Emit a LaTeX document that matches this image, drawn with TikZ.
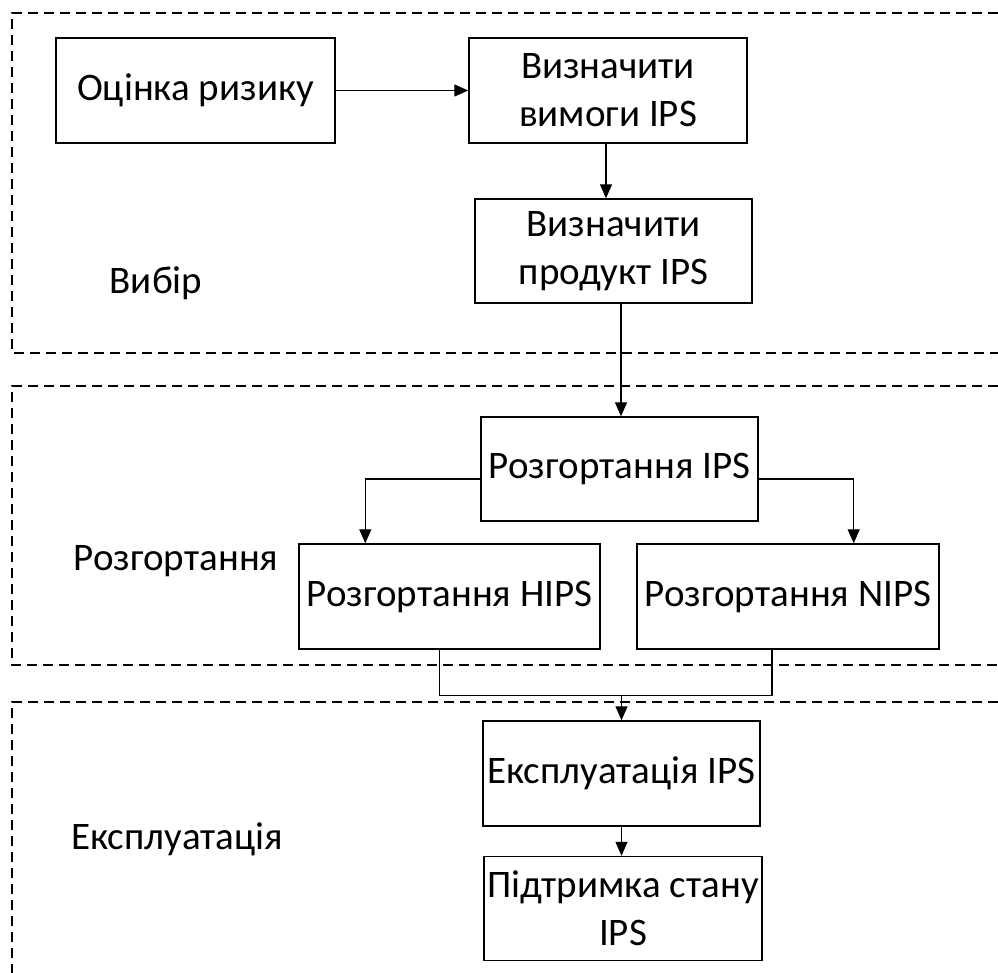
\documentclass[tikz,border=0pt]{standalone}
\usepackage{fontspec}
\setmainfont{Carlito}
\usetikzlibrary{positioning}
\usetikzlibrary{arrows.meta}
\tikzset{box/.style = {draw, line width=1.4pt, inner sep=0pt, align=center,
                       minimum width=277pt, minimum height=105pt,
                       font=\fontsize{39}{48}\selectfont}}
\tikzset{lbl/.style = {inner sep=0pt, font=\fontsize{39}{48}\selectfont}}
\tikzset{flow/.style = {line width=1.2pt, -{Triangle[length=14pt,width=12pt]}}}
\tikzset{link/.style = {line width=1.2pt}}
\tikzset{frame/.style = {line width=1.2pt, dash pattern=on 10pt off 6pt}}

\begin{document}
\begin{tikzpicture}[x=1pt,y=-1pt]
        \useasboundingbox (0,0) rectangle (998,973);
        % stage frames
        \draw[frame] (998,13) -- (12,13) -- (12,353) -- (998,353);
        \draw[frame] (998,386) -- (12,386) -- (12,665) -- (998,665);
        \draw[frame] (998,702) -- (12,702) -- (12,973);
        \node[lbl] (selLbl) at (156,283) {Вибір};
        \node[lbl] (depLbl) at (176,561) {Розгортання};
        \node[lbl] (opLbl) at (177,839) {Експлуатація};
        \node[box, minimum width=279pt] (risk) at (195.5,90.5) {Оцінка ризику};
        \node[box, minimum width=278pt] (req) at (608,90.5) {Визначити\\вимоги IPS};
        \node[box, minimum height=104pt] (prod) at (613.5,251) {Визначити\\продукт IPS};
        \node[box, minimum height=104pt] (dep) at (619.5,469) {Розгортання IPS};
        \node[box, minimum width=301pt] (hips) at (449.5,596.5) {Розгортання HIPS};
        \node[box, minimum width=302pt] (nips) at (788,596.5) {Розгортання NIPS};
        \node[box] (oper) at (621.5,773.5) {Експлуатація IPS};
        \node[box, minimum width=278pt, minimum height=104pt] (supp) at (623,908.5) {Підтримка стану\\IPS};
        \coordinate (join) at ([yshift=25pt]oper.north);
        \draw[flow] (risk) -- (req);
        \draw[flow] ([xshift=-2pt]req.south) -- ([xshift=-2pt]req.south |- prod.north);
        \draw[flow] ([xshift=1.5pt]dep.north |- prod.south) -- ([xshift=1.5pt]dep.north);
        \draw[flow] ([yshift=-10pt]dep.west) -| ([xshift=67pt]hips.north west);
        \draw[flow] ([yshift=-10pt]dep.east) -| ([xshift=-86pt]nips.north east);
        \draw[link] ([xshift=-10pt]hips.south) |- (join) -| ([xshift=-16pt]nips.south);
        \draw[flow] (join) -- (oper);
        \draw[flow] (oper.south) -- (oper.south |- supp.north);
    \end{tikzpicture}
\end{document}
